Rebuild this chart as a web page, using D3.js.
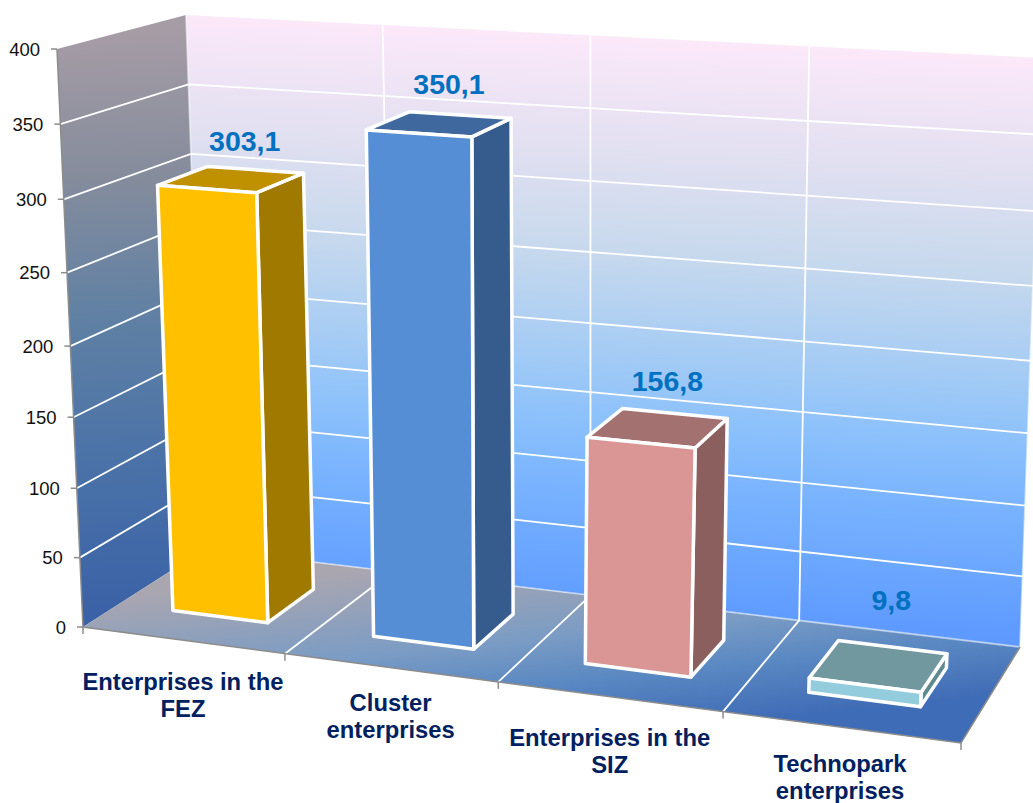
<!DOCTYPE html>
<html>
<head>
<meta charset="utf-8">
<script src="https://cdn.jsdelivr.net/npm/d3@7"></script>
<style>
  html, body { margin: 0; padding: 0; background: #fff; overflow: hidden; }
  text { font-family: "Liberation Sans", Arial, sans-serif; }
</style>
</head>
<body>
<svg id="chart" width="1033" height="803"></svg>
<script>
// Chart data
const categories = [
  ['Enterprises in the', 'FEZ'],
  ['Cluster', 'enterprises'],
  ['Enterprises in the', 'SIZ'],
  ['Technopark', 'enterprises']
];
const values = [303.1, 350.1, 156.8, 9.8];
const valueLabels = ['303,1', '350,1', '156,8', '9,8'];
const yTicks = [0, 50, 100, 150, 200, 250, 300, 350, 400];

// Bar colours: front, side, top
const frontColors = ['#FFC000', '#558ED5', '#D99694', '#93CDDD'];
const sideColors = ['#A07A00', '#355C8D', '#8B5F5D', '#5F8A8F'];
const topColors = ['#BF9000', '#3F689E', '#A3716F', '#71989F'];

// Label placement relative to the projected anchors
const valueNudge = [[16, -38], [12, -40], [12, -47], [15, -66]];
const categoryNudge = [[-1, 42], [-1, 35], [-1, 41], [-2, 37]];

const svg = d3.select('#chart');

// Corners of the 3D box on screen (f = front, b = back, l = left, r = right, 0 = floor, 1 = top)
const box = {
  fl0: [83, 627], fr0: [961, 743], bl0: [205, 549], br0: [1020, 647],
  fl1: [57, 49], fr1: [993, 106], bl1: [186, 15], br1: [1041, 58]
};

// Scales are piecewise because of the perspective: slots and ticks grow towards the viewer
const uScale = d3.scaleLinear().domain([0, 1, 2, 3, 4]).range([0, 0.23, 0.473, 0.729, 1]);
const yScale = d3.scaleLinear().domain([0, 100, 200, 300, 400]).range([0, 0.24, 0.486, 0.74, 1]);

const mix = (a, b, t) => [a[0] + (b[0] - a[0]) * t, a[1] + (b[1] - a[1]) * t];

// u = category position, d = depth (0 front, 1 back), v = value
function project(u, d, v) {
  const s = uScale(u), t = yScale(v);
  const bottom = mix(mix(box.fl0, box.fr0, s), mix(box.bl0, box.br0, s), d);
  const top = mix(mix(box.fl1, box.fr1, s), mix(box.bl1, box.br1, s), d);
  return mix(bottom, top, t);
}

const line = d3.line();

// Gradients
const defs = svg.append('defs');
function addGradient(id, x1, y1, x2, y2, stops) {
  const g = defs.append('linearGradient').attr('id', id)
    .attr('gradientUnits', 'userSpaceOnUse')
    .attr('x1', x1).attr('y1', y1).attr('x2', x2).attr('y2', y2);
  stops.forEach(s => g.append('stop').attr('offset', s[0]).attr('stop-color', s[1]));
}
addGradient('backWall', 620, 30, 590, 620, [
  [0, '#fde9fa'], [0.2, '#e2e0f1'], [0.37, '#c8d9ed'], [0.54, '#a6ccf4'],
  [0.66, '#8cc1fb'], [0.8, '#75b0ff'], [1, '#5d99ff']
]);
addGradient('leftWall', 120, 30, 140, 610, [
  [0, '#a69ca6'], [0.25, '#858c9c'], [0.5, '#5f80a4'], [0.75, '#4a72a8'], [1, '#3b62a6']
]);
addGradient('floor', 500, 555, 520, 745, [
  [0, '#aaa6b0'], [0.45, '#7b9cc4'], [0.7, '#5a88c2'], [1, '#3f6cb6']
]);

// Walls and floor
const maxU = categories.length, minV = yTicks[0], maxV = yTicks[yTicks.length - 1];
svg.append('path').attr('fill', 'url(#backWall)')
  .attr('d', line([project(0, 1, minV), project(0, 1, maxV), project(maxU, 1, maxV), project(maxU, 1, minV)]) + 'Z');
svg.append('path').attr('fill', 'url(#leftWall)')
  .attr('d', line([project(0, 0, minV), project(0, 0, maxV), project(0, 1, maxV), project(0, 1, minV)]) + 'Z');
svg.append('path').attr('fill', 'url(#floor)')
  .attr('d', line([project(0, 0, minV), project(0, 1, minV), project(maxU, 1, minV), project(maxU, 0, minV)]) + 'Z');

// Gridlines
const gridGroup = svg.append('g').attr('fill', 'none').attr('stroke', '#fff').attr('stroke-width', 1.8);
yTicks.filter(v => v > minV && v < maxV).forEach(v => {
  gridGroup.append('path').attr('d', line([project(0, 0, v), project(0, 1, v), project(maxU, 1, v)]));
});
d3.range(1, maxU).forEach(u => {
  gridGroup.append('path').attr('d', line([project(u, 0, minV), project(u, 1, minV), project(u, 1, maxV)]));
});
gridGroup.append('path').attr('stroke-opacity', 0.5)
  .attr('d', line([project(0, 1, maxV), project(0, 1, minV), project(maxU, 1, minV), project(maxU, 1, maxV)]));

// Axis lines
const axisGroup = svg.append('g').attr('fill', 'none').attr('stroke', '#8c8c8c').attr('stroke-width', 1.5);
axisGroup.append('path').attr('d', line([project(0, 0, maxV), project(0, 0, minV), project(maxU, 0, minV), project(maxU, 1, minV)]));

// Y axis ticks and labels
yTicks.forEach(v => {
  const p = project(0, 0, v);
  axisGroup.append('path').attr('d', line([[p[0] - 6, p[1]], p]));
  svg.append('text')
    .attr('x', p[0] - 17)
    .attr('y', p[1] + 6.5)
    .attr('text-anchor', 'end')
    .style('font-size', '18.5px')
    .attr('fill', '#111')
    .text(v);
});

// Category ticks and labels
d3.range(0, maxU + 1).forEach(u => {
  const p = project(u, 0, minV);
  axisGroup.append('path').attr('d', line([p, [p[0], p[1] + 7]]));
});
categories.forEach((lines, i) => {
  const a = project(i, 0, minV), b = project(i + 1, 0, minV);
  const cx = (a[0] + b[0]) / 2 + categoryNudge[i][0];
  const cy = (a[1] + b[1]) / 2 + categoryNudge[i][1];
  lines.forEach((txt, k) => {
    svg.append('text')
      .attr('x', cx)
      .attr('y', cy + 8 + k * 27)
      .attr('text-anchor', 'middle')
      .style('font-size', '23.8px')
      .style('font-weight', 'bold')
      .attr('fill', '#002060')
      .text(txt);
  });
});

// Bars
const barStart = 0.27, barEnd = 0.75, depthFront = 0.3, depthBack = 0.71;
values.forEach((v, i) => {
  const u0 = i + barStart, u1 = i + barEnd;
  const g = svg.append('g').attr('stroke', '#fff').attr('stroke-width', 3.5).attr('stroke-linejoin', 'round');

  // Side face
  g.append('path').attr('fill', sideColors[i])
    .attr('d', line([project(u1, depthFront, 0), project(u1, depthBack, 0), project(u1, depthBack, v), project(u1, depthFront, v)]) + 'Z');
  // Top face
  g.append('path').attr('fill', topColors[i])
    .attr('d', line([project(u0, depthFront, v), project(u1, depthFront, v), project(u1, depthBack, v), project(u0, depthBack, v)]) + 'Z');
  // Front face
  g.append('path').attr('fill', frontColors[i])
    .attr('d', line([project(u0, depthFront, 0), project(u1, depthFront, 0), project(u1, depthFront, v), project(u0, depthFront, v)]) + 'Z');

  // Value label
  const c = project(i + 0.5, 0.5, v);
  svg.append('text')
    .attr('x', c[0] + valueNudge[i][0])
    .attr('y', c[1] + valueNudge[i][1] + 10)
    .attr('text-anchor', 'middle')
    .style('font-size', '28.5px')
    .style('font-weight', 'bold')
    .attr('fill', '#0070C0')
    .text(valueLabels[i]);
});
</script>
</body>
</html>
